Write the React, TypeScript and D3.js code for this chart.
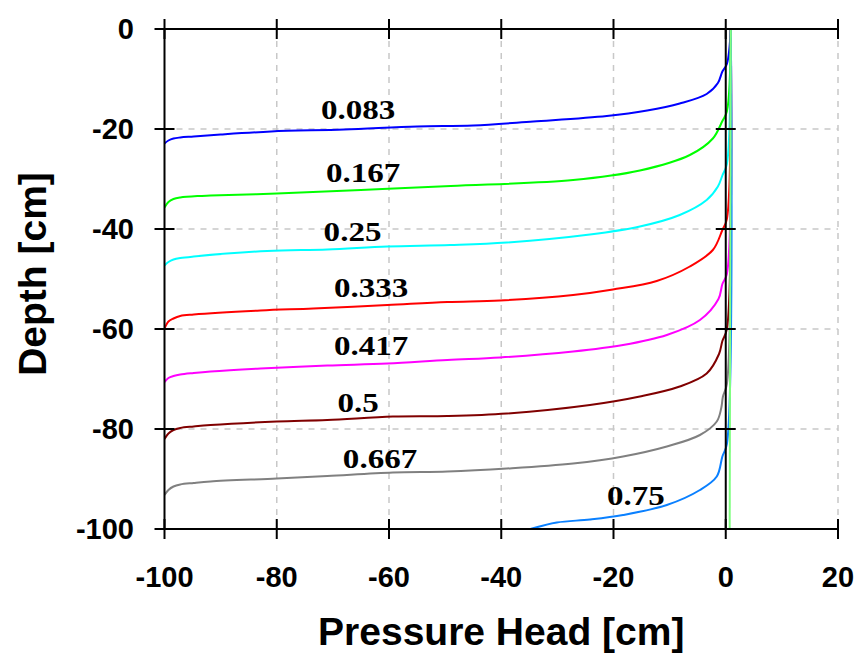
import React from "react";
import * as d3 from "d3";

// Pressure head profiles h(z) at successive times (days)
const times = ["0.083", "0.167", "0.25", "0.333", "0.417", "0.5", "0.667", "0.75"];
const colors = ["#0000ff", "#00ff00", "#00ffff", "#ff0000", "#ff00ff", "#800000", "#808080", "#0a80ff", "#80ff80"];

const profile0083: [number, number][] = [[-100, -22.9], [-99.3, -22.3], [-98.4, -21.9], [-97.2, -21.7], [-94.8, -21.5], [-90, -21.1], [-81, -20.5], [-68, -20.1], [-55, -19.5], [-45, -19.3], [-34.3, -18.5], [-21.2, -17.4], [-14, -16.3], [-8.2, -14.9], [-3.4, -13], [-1.4, -10.8], [-0.6, -8.5], [0.2, -7], [0.9, 0]];
const profile0167: [number, number][] = [[-100, -35.7], [-99.3, -34.6], [-98.4, -34.0], [-97.2, -33.7], [-94, -33.4], [-91.8, -33.3], [-80, -32.9], [-65, -32.2], [-49, -31.4], [-27.2, -30.2], [-15.3, -28.3], [-6.4, -25.2], [-2.3, -21.9], [-0.6, -18.4], [0.2, -16.5], [0.9, 0]];
const profile025: [number, number][] = [[-100, -47.3], [-99.3, -46.6], [-98.4, -46.1], [-97.2, -45.8], [-94.8, -45.5], [-81.7, -44.4], [-71, -44.1], [-60.3, -43.5], [-49.1, -43.2], [-39, -42.7], [-24.2, -41.1], [-15.3, -39.5], [-8.2, -37.2], [-3.4, -34.2], [-1.4, -31.5], [-0.6, -29.3], [0.2, -27], [0.9, 0]];
const profile0333: [number, number][] = [[-100, -59.9], [-99.3, -58.5], [-98.4, -57.9], [-97.2, -57.4], [-94.8, -57.1], [-82.9, -56.3], [-73.5, -55.9], [-60.3, -55.2], [-49.6, -54.6], [-40.2, -54.3], [-27.2, -53.2], [-20.1, -52.1], [-12.3, -50.4], [-6.4, -47.5], [-2.3, -44.2], [-0.6, -40.2], [0.2, -38], [0.9, 0]];
const profile0417: [number, number][] = [[-100, -70.6], [-99.3, -69.8], [-98.4, -69.4], [-97.2, -69.1], [-94.8, -68.8], [-91.8, -68.5], [-82.9, -67.9], [-71, -67.3], [-60.3, -66.9], [-49.6, -66.2], [-40.2, -65.7], [-27.2, -64.5], [-18.3, -63.2], [-10.5, -61.2], [-4.6, -58.2], [-1.3, -54], [-0.6, -51], [0.2, -49], [0.9, 0]];
const profile05: [number, number][] = [[-100, -82], [-99.3, -80.9], [-98.4, -80.2], [-97.2, -79.8], [-94.8, -79.5], [-91.8, -79.2], [-80, -78.5], [-71, -78.2], [-59.3, -77.5], [-49.6, -77.4], [-39, -76.9], [-24.2, -75.2], [-15.3, -73.5], [-8.2, -71.5], [-3.4, -68.9], [-1.2, -65], [-0.6, -62.4], [0.2, -60], [0.9, 0]];
const profile0667: [number, number][] = [[-100, -93.2], [-99.3, -92.2], [-98.4, -91.5], [-97.2, -91.1], [-94.8, -90.8], [-91.8, -90.5], [-80, -89.9], [-71, -89.4], [-59.3, -88.7], [-49.6, -88.5], [-39, -87.9], [-27.2, -86.9], [-18.3, -85.5], [-10.5, -83.5], [-4.6, -81.2], [-1.6, -78.5], [-0.8, -75.8], [-0.5, -73.5], [0.2, -71], [0.9, 0]];
const profile075: [number, number][] = [[-34.8, -100], [-30.1, -98.7], [-24.2, -98.1], [-18.3, -97.2], [-10.5, -95.2], [-4.6, -92.2], [-1.6, -89.5], [-0.6, -85.5], [0.2, -83], [0.9, 0]];
const profileFinal: [number, number][] = [[0.7, -100], [0.9, 0]];

const profiles = [profile0083, profile0167, profile025, profile0333, profile0417, profile05, profile0667, profile075, profileFinal];

// Curve label anchors in data units (pressure head, depth)
const labelH = [-65.5, -64.6, -66.5, -63.2, -63.2, -65.5, -61.6, -16];
const labelZ = [-18, -30.6, -42.4, -53.6, -65.2, -76.6, -87.8, -95.2];

const xTicks = [-100, -80, -60, -40, -20, 0, 20];
const yTicks = [0, -20, -40, -60, -80, -100];

const W = 857;
const H = 653;

export default function App() {
  const x = d3.scaleLinear().domain([-100, 20]).range([164.5, 838]);
  const y = d3.scaleLinear().domain([0, -100]).range([29, 529]);

  const line = d3
    .line<[number, number]>()
    .x((d) => x(d[0]))
    .y((d) => y(d[1]))
    .curve(d3.curveCatmullRom.alpha(0.5));

  const tickFont = "'Liberation Sans', Arial, sans-serif";
  const tickLen = 10;
  const x0 = x(-100);
  const x1 = x(20);
  const y0 = y(0);
  const y1 = y(-100);

  return (
    <svg width={W} height={H} style={{ position: "absolute", left: 0, top: 0, background: "#fff" }}>
      <defs>
        <clipPath id="plot">
          <rect x={x0} y={y0} width={x1 - x0} height={y1 - y0} />
        </clipPath>
      </defs>
      <rect width={W} height={H} fill="#fff" />

      {/* grid */}
      <g stroke="#c8c8c8" strokeWidth={1.5} strokeDasharray="6,6">
        {xTicks
          .filter((t) => t !== -100 && t !== 0)
          .map((t) => (
            <line key={"gx" + t} x1={x(t)} x2={x(t)} y1={y0} y2={y1} />
          ))}
        {yTicks
          .filter((t) => t !== 0 && t !== -100)
          .map((t) => (
            <line key={"gy" + t} x1={x0} x2={x1} y1={y(t)} y2={y(t)} />
          ))}
      </g>

      {/* profiles */}
      <g clipPath="url(#plot)" fill="none" strokeWidth={2}>
        {profiles.map((p, i) => (
          <path key={"p" + i} d={line(p) || ""} stroke={colors[i]} />
        ))}
      </g>

      {/* axes and zero lines */}
      <g stroke="#000" strokeWidth={2}>
        <line x1={x0} x2={x0} y1={y0} y2={y1} />
        <line x1={x0} x2={x1} y1={y1} y2={y1} />
        <line x1={x0} x2={x1} y1={y0} y2={y0} />
        <line x1={x(0)} x2={x(0)} y1={y0} y2={y1} />
        {yTicks.map((t) => (
          <g key={"ty" + t}>
            <line x1={x0 - tickLen} x2={x0 + tickLen} y1={y(t)} y2={y(t)} />
            <line x1={x(0) - tickLen} x2={x(0) + tickLen} y1={y(t)} y2={y(t)} />
          </g>
        ))}
        {xTicks.map((t) => (
          <g key={"tx" + t}>
            <line x1={x(t)} x2={x(t)} y1={y1 - tickLen} y2={y1 + tickLen} />
            <line x1={x(t)} x2={x(t)} y1={y0 - tickLen} y2={y0 + tickLen} />
          </g>
        ))}
      </g>

      {/* tick labels */}
      <g fontFamily={tickFont} fontWeight="bold" fontSize={29} fill="#000">
        {yTicks.map((t) => (
          <text key={"ly" + t} x={134} y={y(t)} textAnchor="end" dominantBaseline="central">
            {t}
          </text>
        ))}
        {xTicks.map((t) => (
          <text key={"lx" + t} x={x(t)} y={587} textAnchor="middle">
            {t}
          </text>
        ))}
      </g>

      {/* curve labels */}
      <g fontFamily="'Liberation Serif', 'Times New Roman', serif" fontWeight="bold" fontSize={28} fill="#000">
        {times.map((t, i) => (
          <text
            key={"c" + t}
            textAnchor="middle"
            transform={`translate(${x(labelH[i])},${y(labelZ[i])}) scale(1.18,1)`}
          >
            {t}
          </text>
        ))}
      </g>

      {/* axis titles */}
      <text
        x={(x0 + x1) / 2}
        y={645}
        textAnchor="middle"
        fontFamily={tickFont}
        fontWeight="bold"
        fontSize={39}
      >
        Pressure Head [cm]
      </text>
      <text
        transform={`translate(46,${(y0 + y1) / 2 - 5}) rotate(-90)`}
        textAnchor="middle"
        fontFamily={tickFont}
        fontWeight="bold"
        fontSize={39}
      >
        Depth [cm]
      </text>
    </svg>
  );
}
